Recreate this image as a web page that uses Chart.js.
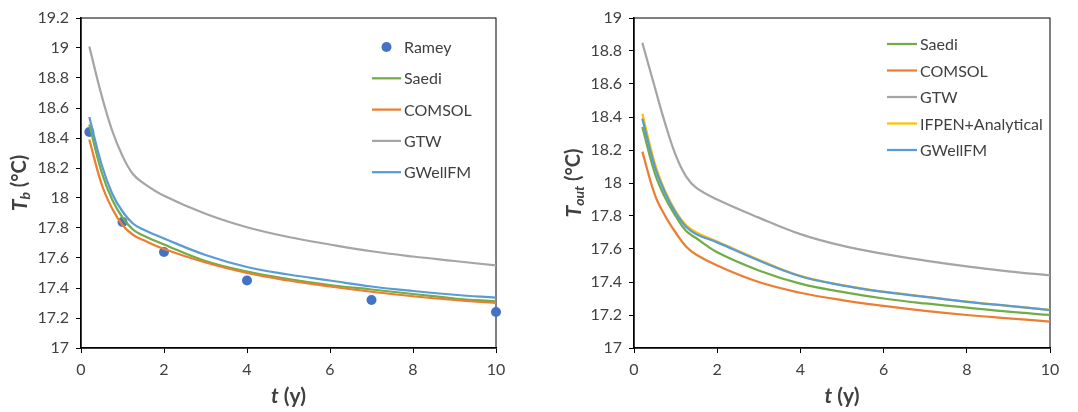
<!DOCTYPE html>
<html>
<head>
<meta charset="utf-8">
<script src="https://cdn.jsdelivr.net/npm/chart.js@4"></script>
<style>
  body { margin: 0; background: #fff; }
  .panel { position: absolute; top: 0; }
</style>
</head>
<body>
<div class="panel" style="left:0"><canvas id="chartTb" width="540" height="412"></canvas></div>
<div class="panel" style="left:540px"><canvas id="chartTout" width="538" height="412"></canvas></div>
<script>
// time axis (years)
const years = [0.2, 0.5, 0.75, 1, 1.25, 1.5, 2, 3, 4, 5, 6, 7, 8, 9, 10];

// left panel: borehole temperature Tb
const rameyYears = [0.2, 1, 2, 4, 7, 10];
const rameyTb = [18.44, 17.84, 17.64, 17.45, 17.32, 17.24];
const saediTb = [18.49, 18.17, 17.99, 17.87, 17.79, 17.75, 17.69, 17.58, 17.51, 17.46, 17.42, 17.39, 17.36, 17.33, 17.31];
const comsolTb = [18.39, 18.09, 17.93, 17.82, 17.755, 17.72, 17.66, 17.57, 17.50, 17.45, 17.41, 17.375, 17.345, 17.32, 17.30];
const gtwTb = [19.01, 18.68, 18.45, 18.28, 18.16, 18.10, 18.015, 17.895, 17.805, 17.74, 17.69, 17.645, 17.61, 17.58, 17.55];
const gwellTb = [18.54, 18.22, 18.03, 17.91, 17.83, 17.79, 17.73, 17.62, 17.54, 17.49, 17.45, 17.41, 17.38, 17.355, 17.335];

// right panel: outlet temperature Tout
const saediOut = [18.34, 18.06, 17.91, 17.80, 17.71, 17.665, 17.58, 17.47, 17.39, 17.34, 17.30, 17.27, 17.245, 17.22, 17.20];
const comsolOut = [18.19, 17.93, 17.80, 17.70, 17.615, 17.565, 17.50, 17.40, 17.335, 17.29, 17.255, 17.225, 17.20, 17.18, 17.16];
const gtwOut = [18.85, 18.58, 18.36, 18.17, 18.04, 17.97, 17.90, 17.79, 17.69, 17.62, 17.57, 17.53, 17.495, 17.465, 17.44];
const ifpenOut = [18.42, 18.12, 17.95, 17.83, 17.745, 17.70, 17.645, 17.535, 17.437, 17.381, 17.341, 17.311, 17.281, 17.256, 17.231];
const gwellOut = [18.39, 18.10, 17.94, 17.82, 17.735, 17.69, 17.64, 17.53, 17.435, 17.38, 17.34, 17.31, 17.28, 17.255, 17.23];

const xTicks = [0, 2, 4, 6, 8, 10];

const FONT = 'Lato, "Open Sans", sans-serif';
const TEXT = '#404040';

function pts(xs, ys) {
    return xs.map((x, i) => ({ x: x, y: ys[i] }));
}

function lineSet(label, xs, ys, color, order) {
    return {
        label: label,
        data: pts(xs, ys),
        borderColor: color,
        backgroundColor: color,
        borderWidth: 2.25,
        pointRadius: 0,
        tension: 0.4,
        order: order
    };
}

// draws a label made of several differently styled pieces
function drawParts(ctx, parts, cx, cy, rotate) {
    ctx.save();
    ctx.translate(cx, cy);
    if (rotate) ctx.rotate(-Math.PI / 2);
    let total = 0;
    parts.forEach(p => { ctx.font = p.f; total += ctx.measureText(p.t).width; });
    let x = -total / 2;
    ctx.fillStyle = TEXT;
    ctx.textBaseline = 'middle';
    parts.forEach(p => {
        ctx.font = p.f;
        ctx.fillText(p.t, x, p.dy || 0);
        x += ctx.measureText(p.t).width;
    });
    ctx.restore();
}

const decorPlugin = {
    id: 'decor',
    beforeDatasetsDraw(chart) {
        const a = chart.chartArea;
        const ctx = chart.ctx;
        ctx.save();
        ctx.strokeStyle = '#000';
        ctx.lineWidth = 1;
        ctx.strokeRect(a.left, a.top, a.right - a.left, a.bottom - a.top);
        ctx.restore();
    },
    afterDraw(chart, args, opts) {
        const ctx = chart.ctx;
        const a = chart.chartArea;
        // axis titles
        drawParts(ctx, opts.yTitle, opts.yTitleX, (a.top + a.bottom) / 2, true);
        drawParts(ctx, opts.xTitle, (a.left + a.right) / 2, 396, false);
        // legend inside plot
        const lg = opts.legend;
        chart.data.datasets.forEach((ds, i) => {
            const y = lg.y + i * lg.gap;
            ctx.save();
            if (ds.showLine === false) {
                ctx.fillStyle = ds.backgroundColor;
                ctx.beginPath();
                ctx.arc((lg.x0 + lg.x1) / 2, y, 5, 0, Math.PI * 2);
                ctx.fill();
            } else {
                ctx.strokeStyle = ds.borderColor;
                ctx.lineWidth = 2.25;
                ctx.beginPath();
                ctx.moveTo(lg.x0, y);
                ctx.lineTo(lg.x1, y);
                ctx.stroke();
            }
            ctx.fillStyle = TEXT;
            ctx.font = '16px ' + FONT;
            ctx.textBaseline = 'middle';
            ctx.fillText(ds.label, lg.x1 + 3, y + 1);
            ctx.restore();
        });
    }
};

function makeOptions(cfg) {
    return {
        responsive: false,
        animation: false,
        layout: { padding: { top: 18, right: cfg.padRight, bottom: 0, left: 0 } },
        plugins: {
            legend: { display: false },
            tooltip: { enabled: false },
            decor: {
                yTitle: cfg.yTitle,
                yTitleX: cfg.yTitleX,
                xTitle: [
                    { t: 't', f: 'italic bold 21px ' + FONT },
                    { t: ' (y)', f: 'bold 21px ' + FONT }
                ],
                legend: cfg.legend
            }
        },
        scales: {
            x: {
                type: 'linear',
                min: 0,
                max: 10,
                afterFit: s => { s.height = 64; },
                afterBuildTicks: s => { s.ticks = xTicks.map(v => ({ value: v })); },
                ticks: { color: TEXT, font: { size: 16, family: FONT }, padding: 7, maxRotation: 0 },
                grid: { display: true, drawOnChartArea: false, drawTicks: true, tickLength: 5, color: '#000', lineWidth: 1 },
                border: { display: true, color: '#000', width: 1.5 }
            },
            y: {
                min: 17,
                max: cfg.yMax,
                afterFit: s => { s.width = cfg.yWidth; },
                ticks: {
                    stepSize: 0.2,
                    color: TEXT,
                    font: { size: 16, family: FONT },
                    padding: 7,
                    callback: v => String(Math.round(v * 10) / 10)
                },
                grid: { display: true, drawOnChartArea: false, drawTicks: true, tickLength: 5, color: '#000', lineWidth: 1 },
                border: { display: true, color: '#000', width: 1.5 }
            }
        }
    };
}

new Chart(document.getElementById('chartTb'), {
    type: 'line',
    data: {
        datasets: [
            {
                label: 'Ramey',
                data: pts(rameyYears, rameyTb),
                showLine: false,
                backgroundColor: '#4472C4',
                borderColor: '#4472C4',
                pointRadius: 5,
                pointBorderWidth: 0,
                clip: false,
                order: 6
            },
            lineSet('Saedi', years, saediTb, '#70AD47', 4),
            lineSet('COMSOL', years, comsolTb, '#ED7D31', 3),
            lineSet('GTW', years, gtwTb, '#A5A5A5', 2),
            lineSet('GWellFM', years, gwellTb, '#5B9BD5', 1)
        ]
    },
    options: makeOptions({
        padRight: 44,
        yWidth: 81,
        yMax: 19.2,
        yTitleX: 20,
        yTitle: [
            { t: 'T', f: 'italic bold 21px ' + FONT },
            { t: 'b', f: 'italic bold 14px ' + FONT, dy: 5 },
            { t: ' (°C)', f: 'bold 20px ' + FONT }
        ],
        legend: { x0: 372, x1: 401, y: 47, gap: 31.3 }
    }),
    plugins: [decorPlugin]
});

new Chart(document.getElementById('chartTout'), {
    type: 'line',
    data: {
        datasets: [
            lineSet('Saedi', years, saediOut, '#70AD47', 4),
            lineSet('COMSOL', years, comsolOut, '#ED7D31', 3),
            lineSet('GTW', years, gtwOut, '#A5A5A5', 5),
            lineSet('IFPEN+Analytical', years, ifpenOut, '#FFC000', 2),
            lineSet('GWellFM', years, gwellOut, '#5B9BD5', 1)
        ]
    },
    options: makeOptions({
        padRight: 28,
        yWidth: 94,
        yMax: 19,
        yTitleX: 34,
        yTitle: [
            { t: 'T', f: 'italic bold 21px ' + FONT },
            { t: 'out', f: 'italic bold 14px ' + FONT, dy: 5 },
            { t: ' (°C)', f: 'bold 20px ' + FONT }
        ],
        legend: { x0: 347, x1: 377, y: 44, gap: 26.5 }
    }),
    plugins: [decorPlugin]
});
</script>
</body>
</html>
